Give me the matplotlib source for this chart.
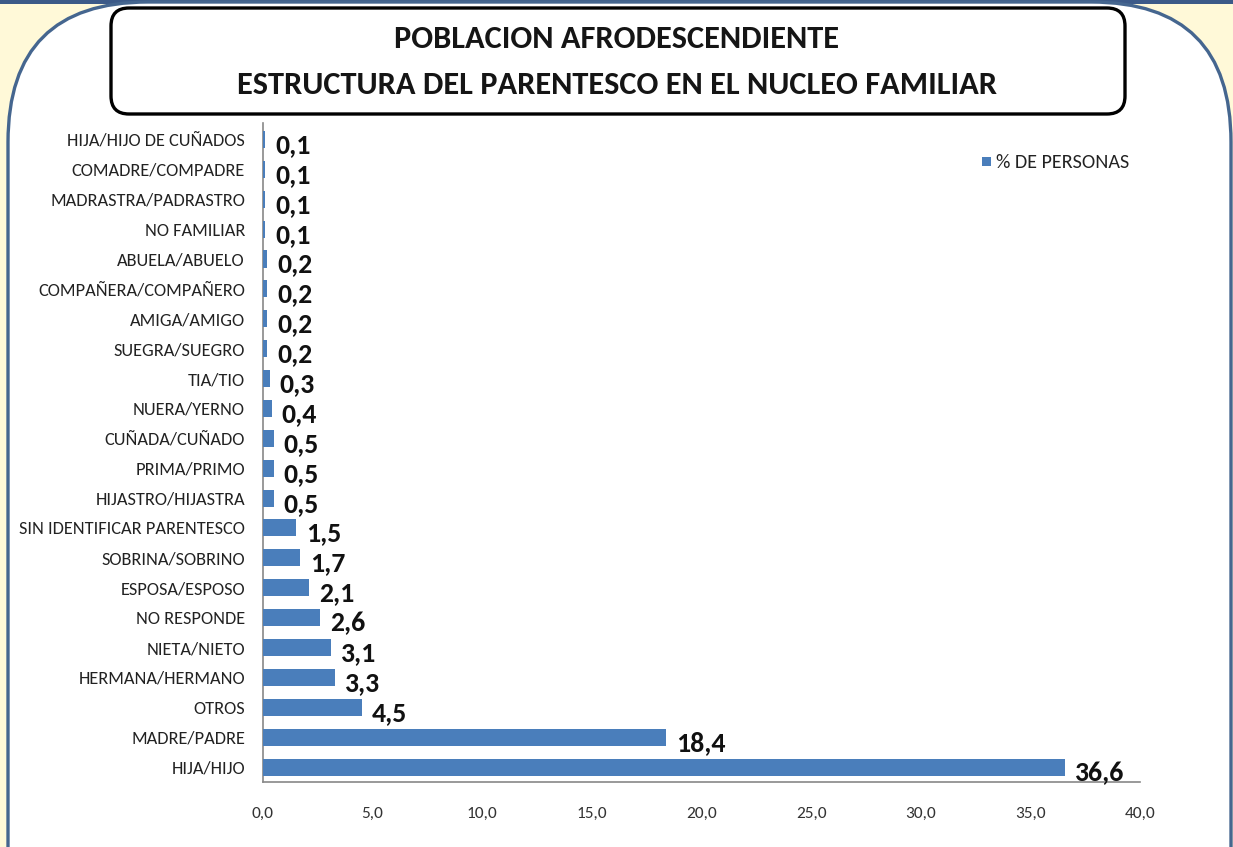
import matplotlib
matplotlib.use("Agg")
import matplotlib.pyplot as plt
from matplotlib.patches import FancyBboxPatch, Rectangle
from matplotlib import font_manager

categories = [
    "HIJA/HIJO DE CUÑADOS", "COMADRE/COMPADRE", "MADRASTRA/PADRASTRO", "NO FAMILIAR",
    "ABUELA/ABUELO", "COMPAÑERA/COMPAÑERO", "AMIGA/AMIGO", "SUEGRA/SUEGRO", "TIA/TIO",
    "NUERA/YERNO", "CUÑADA/CUÑADO", "PRIMA/PRIMO", "HIJASTRO/HIJASTRA",
    "SIN IDENTIFICAR PARENTESCO", "SOBRINA/SOBRINO", "ESPOSA/ESPOSO", "NO RESPONDE",
    "NIETA/NIETO", "HERMANA/HERMANO", "OTROS", "MADRE/PADRE", "HIJA/HIJO",
]
values = [0.1, 0.1, 0.1, 0.1, 0.2, 0.2, 0.2, 0.2, 0.3, 0.4, 0.5, 0.5, 0.5,
          1.5, 1.7, 2.1, 2.6, 3.1, 3.3, 4.5, 18.4, 36.6]
xticks = [0, 5, 10, 15, 20, 25, 30, 35, 40]
series_name = "% DE PERSONAS"
title_lines = ["POBLACION AFRODESCENDIENTE", "ESTRUCTURA DEL PARENTESCO EN EL NUCLEO FAMILIAR"]

avail = {f.name for f in font_manager.fontManager.ttflist}
main_font = "Liberation Sans"
for cand in ["Carlito", "Archivo Narrow", "Asap Condensed", "Liberation Sans Narrow"]:
    if cand in avail:
        main_font = cand
        break
FONT = [main_font, "DejaVu Sans"]
plt.rcParams["font.family"] = FONT

W, H = 1233, 847
fig = plt.figure(figsize=(W / 100, H / 100), dpi=100, facecolor="#FFF9D8")

# background decoration in pixel coordinates
bg = fig.add_axes([0, 0, 1, 1], zorder=-5)
bg.set_xlim(0, W)
bg.set_ylim(H, 0)
bg.axis("off")
bg.add_patch(Rectangle((0, 0), W, 4, facecolor="#3C5A88", edgecolor="none"))
bg.add_patch(FancyBboxPatch((8, 2), 1223, 1000,
                            boxstyle="round,pad=0,rounding_size=140",
                            facecolor="white", edgecolor="#45668F", linewidth=2.4))
bg.add_patch(FancyBboxPatch((111, 8), 1014, 106,
                            boxstyle="round,pad=0,rounding_size=18",
                            facecolor="white", edgecolor="black", linewidth=2.4))
bg.text(617, 39, title_lines[0], ha="center", va="center", fontsize=23.3,
        fontweight="bold", color="#151515")
bg.text(617, 85, title_lines[1], ha="center", va="center", fontsize=23.3,
        fontweight="bold", color="#151515")

# legend
bg.add_patch(Rectangle((982, 157), 9, 9, facecolor="#4A7EBB", edgecolor="none"))
bg.text(996, 163, series_name, ha="left", va="center", fontsize=14.5,
        color="#222222")

ax = fig.add_axes([263 / W, 1 - 782 / H, (1140 - 263) / W, (782 - 123) / H])
ax.patch.set_alpha(0)
n = len(categories)
ypos = list(range(n - 1, -1, -1))
ax.barh(ypos, values, height=0.57, color="#4A7EBB", zorder=3)
ax.set_xlim(0, 40)
ax.set_ylim(-0.5, n - 0.45)
ax.set_yticks(ypos)
ax.set_yticklabels(categories, fontsize=13.2, color="#222222")
ax.set_xticks(xticks)
ax.set_xticklabels([f"{t:.1f}".replace(".", ",") for t in xticks], fontsize=12.5,
                   color="#333333")
ax.tick_params(axis="both", length=0)
ax.tick_params(axis="y", pad=13)
ax.tick_params(axis="x", pad=18)
for s in ["top", "right"]:
    ax.spines[s].set_visible(False)
for s in ["left", "bottom"]:
    ax.spines[s].set_color("#888888")
    ax.spines[s].set_linewidth(1.2)

for y, v in zip(ypos, values):
    ax.annotate(f"{v:.1f}".replace(".", ","), xy=(v, y), xytext=(7, -4),
                textcoords="offset points", ha="left", va="center",
                fontsize=20, fontweight="bold", color="#111111")

fig.savefig("out.png", dpi=100, facecolor=fig.get_facecolor())
